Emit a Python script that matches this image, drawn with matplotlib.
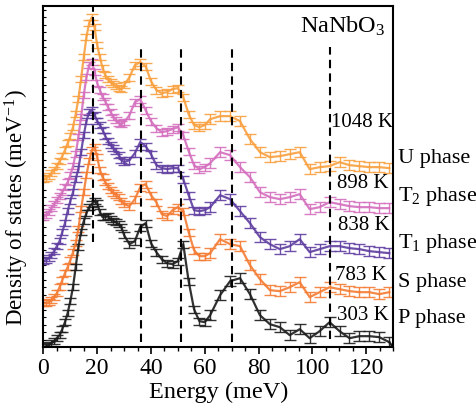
import matplotlib
matplotlib.use("Agg")
import matplotlib.pyplot as plt
from matplotlib.ticker import MultipleLocator, NullFormatter

plt.rcParams['font.family'] = ['Liberation Serif', 'DejaVu Serif']
plt.rcParams['mathtext.fontset'] = 'custom'
plt.rcParams['mathtext.rm'] = 'Liberation Serif'
plt.rcParams['mathtext.it'] = 'Liberation Serif:italic'

# energy grid (meV), shared by all phases
energy = [0, 1, 2, 3, 4, 5, 6, 7, 8, 9, 10, 11, 12, 13, 14, 15, 16, 17, 18, 19,
          20, 21, 22, 23, 24, 25, 26, 27, 28, 29, 30,
          32, 34, 36, 38, 40, 42, 44, 46, 48, 50, 52, 54, 56, 58, 60,
          62, 65.7, 69.4, 73.1, 76.8, 80.5, 84.2, 87.9, 91.6, 95.3, 99, 102.7,
          106.4, 110.1, 113.8, 117.5, 121.2, 124.9, 128.6]

# offset curves (arb. units, already shifted)
dos_P = [0, 1, 2, 4, 6, 9, 12, 18, 25, 34, 46, 60, 80, 100, 115, 126, 134, 140, 143, 146,
         144, 135, 130, 130, 131, 128, 126, 125, 123, 120, 112,
         103, 106, 120, 124, 104, 95, 88, 84, 83, 86, 103, 66, 38, 26, 25,
         32, 52, 66, 69, 53, 32, 23, 20, 12, 18, 9, 16,
         25, 16, 9, 11, 11, 10, 5]
dos_S = [44, 44, 45, 47, 50, 54, 60, 67, 74, 80, 87, 95, 104, 118, 138, 155, 172, 186, 197, 200,
         190, 177, 170, 165, 161, 157, 154, 152, 150, 146, 143,
         141, 148, 160, 163, 152, 145, 133, 131, 137, 140, 136, 115, 97, 91, 91,
         94, 108, 103, 101, 82, 68, 57, 56, 60, 65, 50, 55,
         60, 58, 56, 55, 55, 53, 55]
dos_T1 = [86, 87, 89, 92, 96, 101, 106, 115, 124, 136, 146, 155, 168, 178, 195, 212, 226, 235, 237, 232,
          226, 222, 217, 211, 206, 202, 199, 196, 192, 187, 185,
          187, 194, 205, 201, 193, 182, 179, 178, 179, 179, 168, 152, 137, 136, 137,
          140, 152, 148, 136, 124, 110, 103, 98, 101, 108, 95, 98,
          101, 101, 99, 98, 96, 95, 94]
dos_T2 = [130, 132, 135, 139, 143, 147, 151, 155, 160, 165, 172, 181, 193, 210, 230, 252, 270, 282, 285, 275,
          264, 257, 250, 246, 240, 235, 230, 227, 224, 223, 225,
          232, 245, 248, 237, 226, 219, 215, 216, 218, 220, 212, 196, 182, 178, 180,
          184, 195, 192, 180, 170, 155, 150, 148, 150, 153, 138, 140,
          145, 143, 141, 140, 140, 139, 139]
dos_U = [168, 169, 171, 174, 177, 181, 186, 191, 197, 204, 211, 220, 233, 248, 268, 290, 310, 324, 330, 320,
         302, 290, 279, 272, 268, 265, 263, 261, 259, 258, 262,
         270, 282, 285, 281, 266, 257, 254, 255, 258, 259, 250, 233, 222, 220, 222,
         228, 231, 231, 226, 208, 195, 190, 191, 193, 195, 178, 180,
         181, 185, 182, 181, 180, 180, 179]
err = [3] * 31 + [3.5] * 15 + [5] * 19

phases = ['P phase', 'S phase', 'T$_{\\mathrm{1}}$ phase', 'T$_{\\mathrm{2}}$ phase', 'U phase']
temps = ['303 K', '783 K', '838 K', '898 K', '1048 K']
colors = ['#1c1c1c', '#f47c34', '#5f3da0', '#d46fbe', '#f9a03f']
curves = [dos_P, dos_S, dos_T1, dos_T2, dos_U]

# positions of labels (data coords)
temp_x = [109.2, 108.4, 109.6, 109.2, 107]
temp_y = [33, 73, 123, 165, 226]
phase_y = [30, 66, 105, 152, 190]

fig = plt.figure(figsize=(4.77, 4.14), dpi=100)
ax = fig.add_axes([0.091, 0.159, 0.733, 0.825])

for ys, c in zip(curves[::-1], colors[::-1]):
    ax.errorbar(energy, ys, yerr=err, color=c, ecolor=c, elinewidth=1.0,
                capsize=4.5, capthick=1.0, lw=1.6, alpha=0.9)

# end of the 303 K curve drops to zero at the axis edge
ax.plot([128.6, 130], [dos_P[-1], 0], color=colors[0], lw=1.6)

# vertical guide lines
vlines = [18.5, 36.4, 51.0, 70.0, 106.5]
vl_lo = [105, 5, 5, 5, 8]
vl_hi = [342, 301, 298, 300, 300]
for x, lo, hi in zip(vlines, vl_lo, vl_hi):
    ax.plot([x, x], [lo, hi], color='black', lw=1.5, ls=(0, (4, 2.5)), zorder=5)

for t, x, y in zip(temps, temp_x, temp_y):
    ax.text(x, y, t, fontsize=15, ha='left', va='center')
for p, y in zip(phases, phase_y):
    ax.text(131.8, y, p, fontsize=16, ha='left', va='center', clip_on=False)

ax.text(95.5, 322, 'NaNbO$_3$', fontsize=17.5, ha='left', va='center')

ax.set_xlim(0, 130)
ax.set_ylim(0, 341.5)
ax.xaxis.set_major_locator(MultipleLocator(20))
ax.xaxis.set_minor_locator(MultipleLocator(5))
ax.yaxis.set_major_locator(MultipleLocator(30))
ax.yaxis.set_minor_locator(MultipleLocator(7.5))
ax.yaxis.set_major_formatter(NullFormatter())
ax.tick_params(axis='x', which='major', direction='out', length=5, width=1.2, labelsize=17, pad=2)
ax.tick_params(axis='x', which='minor', direction='out', length=3, width=1.0)
ax.tick_params(axis='y', which='both', direction='in', length=2, width=0.8)
for s in ax.spines.values():
    s.set_linewidth(1.5)

ax.set_xlabel('Energy (meV)', fontsize=17.5, labelpad=2)
ax.set_ylabel('Density of states (meV$^{\\mathrm{-1}}$)', fontsize=16.5)
ax.yaxis.set_label_coords(-0.035, 0.41)

fig.savefig('out.png', dpi=100)
